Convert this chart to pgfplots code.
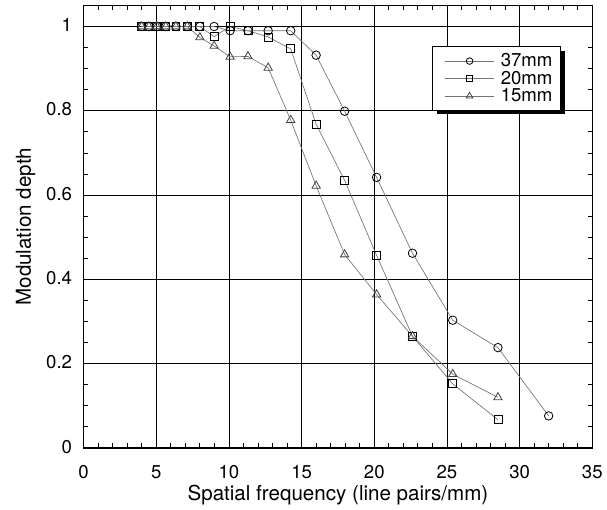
\documentclass[border=0pt]{standalone}
\usepackage{fontspec}
\setmainfont{TeX Gyre Heros}
\usepackage{pgfplots}
\pgfplotsset{compat=1.18}
\usetikzlibrary{shadows}
\makeatletter
\tikzset{no preactions/.code={\let\tikz@preactions\pgfutil@empty}}
\makeatother
\begin{document}
\begin{tikzpicture}
\begin{axis}[
  scale only axis, width=383.25pt, height=333.4pt,
  xmin=0, xmax=35, ymin=0, ymax=1.05,
  xtick={0,5,10,15,20,25,30,35},
  ytick={0,0.2,0.4,0.6,0.8,1},
  minor x tick num=4, minor y tick num=3,
  tick align=inside, tick pos=both,
  xticklabel pos=lower, yticklabel pos=left,
  major tick length=0pt, minor tick length=3.5pt,
  every tick/.style={black, line width=0.6pt},
  grid=major, major grid style={black, line width=0.6pt},
  axis line style={black, line width=1.1pt},
  /pgf/number format/assume math mode=true,
  ticklabel style={font=\fontsize{14}{16}\selectfont},
  xticklabel style={anchor=base, yshift=-23pt},
  yticklabel style={anchor=east, inner xsep=0pt, xshift=-8.5pt, yshift=1pt},
  xlabel={Spatial frequency (line pairs/mm)},
  ylabel={Modulation depth},
  every axis x label/.style={at={(axis description cs:0.5,-0.119)}, anchor=base, font=\fontsize{15.5}{18}\selectfont},
  every axis y label/.style={at={(axis description cs:-0.1037,0.5)}, rotate=90, anchor=base, font=\fontsize{15.5}{18}\selectfont},
  legend style={at={(0.6855,0.9073)}, anchor=north west, draw=black, line width=0.6pt,
    fill=white, drop shadow={shadow xshift=3pt, shadow yshift=-3pt, fill=black, opacity=1},
    font=\fontsize{14}{16}\selectfont, row sep=-2.25pt,
    inner xsep=4.2pt, inner ysep=3pt},
  legend cell align=left,
  legend image code/.code={\path[no preactions] (0pt,-3pt) (44.6pt,3pt); \draw[no preactions, mark repeat=2, mark phase=2, every mark/.append style={scale=0.78}] plot coordinates {(4.6pt,0pt) (23.35pt,0pt) (42.1pt,0pt)};},
]
\addplot[draw=black!55, line width=0.5pt, mark=o, mark size=3.2pt, mark options={draw=black, line width=0.6pt}] coordinates {
(4,1)(4.49,1)(5.04,1)(5.66,1)(6.35,1)(7.13,1)(8,1)(8.98,1.0)(10.08,0.99)(11.31,0.99)(12.7,0.99)(14.25,0.99)(16,0.932)(17.96,0.799)(20.16,0.642)(22.63,0.462)(25.4,0.303)(28.51,0.238)(32,0.076)};
\addlegendentry{37mm}
\addplot[draw=black!55, line width=0.5pt, mark=square, mark size=3.0pt, mark options={draw=black, line width=0.6pt}] coordinates {
(4,1)(4.49,1)(5.04,1)(5.66,1)(6.35,1)(7.13,1)(8,1)(8.98,0.976)(10.08,1.0)(11.31,0.99)(12.7,0.975)(14.25,0.947)(16,0.768)(17.96,0.635)(20.16,0.457)(22.63,0.265)(25.4,0.152)(28.51,0.067)};
\addlegendentry{20mm}
\addplot[draw=black!55, line width=0.5pt, mark=triangle, mark size=3.6pt, mark options={draw=black!75, line width=0.6pt}] coordinates {
(4,1)(4.49,1)(5.04,1)(5.66,1)(6.35,1)(7.13,1)(8,0.974)(8.98,0.954)(10.08,0.928)(11.31,0.929)(12.7,0.902)(14.25,0.778)(16,0.622)(17.96,0.459)(20.16,0.364)(22.63,0.265)(25.4,0.175)(28.51,0.12)};
\addlegendentry{15mm}
\end{axis}
\path ([shift={(-63pt,-45pt)}]current axis.south west) rectangle ([shift={(9pt,4.1pt)}]current axis.north east);
\end{tikzpicture}
\end{document}
